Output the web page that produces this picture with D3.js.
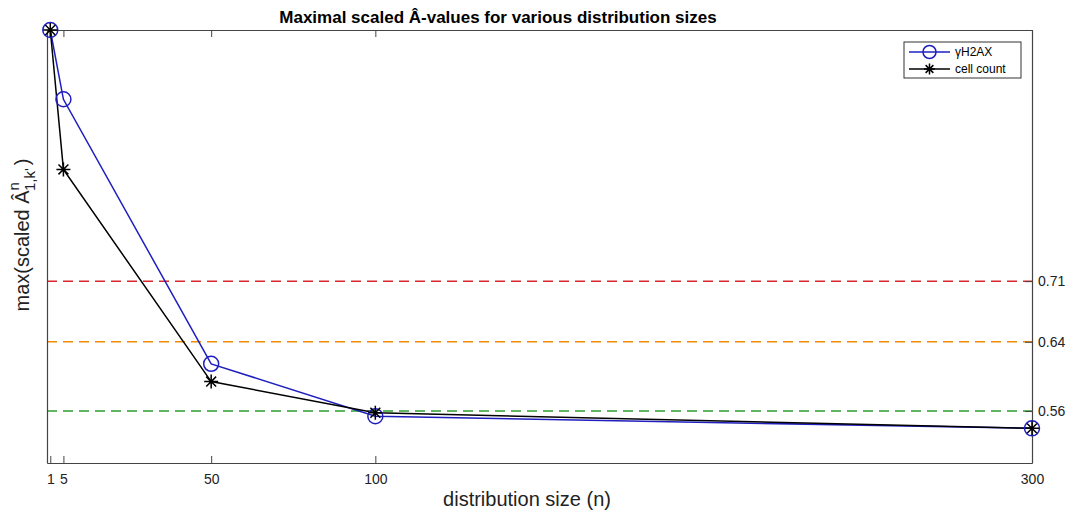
<!DOCTYPE html>
<html><head><meta charset="utf-8">
<script src="https://cdn.jsdelivr.net/npm/d3@7"></script>
<style>body{margin:0;background:#fff}svg{display:block}text{font-family:"Liberation Sans",Arial,sans-serif}</style>
</head><body><svg id="c" width="1075" height="515"></svg>
<script>
const sizes = [1, 5, 50, 100, 300];
const gammaH2AX = [1.0, 0.920, 0.6145, 0.554, 0.540];
const cellCount = [1.0, 0.839, 0.594, 0.558, 0.540];
const xTicks = [1, 5, 50, 100, 300];
const thresholds = [0.71, 0.64, 0.56];
const thresholdColors = ["#d9272b", "#ef8c00", "#2ca02c"];
const seriesNames = ["\u03b3H2AX", "cell count"];

(function () {
const svg = d3.select("#c");
const L = 47, R = 1032, T = 30, B = 463;
const x = d3.scaleLinear().domain([0, 300]).range([L, R]);
const y = d3.scaleLinear().domain([0.5, 1]).range([B, T]);
const axCol = "#444";

// threshold lines
svg.selectAll("line.th").data(thresholds).enter().append("line")
  .attr("x1", L).attr("x2", R).attr("y1", d => y(d)).attr("y2", d => y(d))
  .attr("stroke", (d, i) => thresholdColors[i]).attr("stroke-width", 1.5)
  .attr("stroke-dasharray", "10,6");

// axes
const axBottom = svg.append("g").attr("transform", `translate(0,${B})`)
  .call(d3.axisBottom(x).tickValues(xTicks).tickSizeInner(-7).tickSizeOuter(0).tickPadding(11));
const axTop = svg.append("g").attr("transform", `translate(0,${T})`)
  .call(d3.axisTop(x).tickValues(xTicks).tickSizeInner(-7).tickSizeOuter(0).tickFormat(""));
const axRight = svg.append("g").attr("transform", `translate(${R},0)`)
  .call(d3.axisRight(y).tickValues(thresholds).tickSizeInner(-7).tickSizeOuter(0).tickPadding(6).tickFormat(d3.format(".2f")));
const axLeft = svg.append("g").attr("transform", `translate(${L},0)`)
  .call(d3.axisLeft(y).tickValues([]).tickSizeOuter(0));
[axBottom, axTop, axRight, axLeft].forEach(g => {
  g.select(".domain").attr("stroke", axCol).attr("stroke-width", 1.2);
  g.selectAll(".tick line").attr("stroke", axCol).attr("stroke-width", 1);
  g.selectAll("text").attr("font-size", 14).attr("fill", "#222").attr("font-family", '"Liberation Sans",Arial,sans-serif');
});

// lines
const line = d3.line().x(d => x(d[0])).y(d => y(d[1]));
const gData = sizes.map((s, i) => [s, gammaH2AX[i]]);
const cData = sizes.map((s, i) => [s, cellCount[i]]);
svg.append("path").datum(gData).attr("d", line).attr("fill", "none").attr("stroke", "#1f1fbf").attr("stroke-width", 1.5);
svg.append("path").datum(cData).attr("d", line).attr("fill", "none").attr("stroke", "#000").attr("stroke-width", 1.5);

function star(g, cx, cy, r) {
  const p = [];
  for (let k = 0; k < 4; k++) {
    const a = k * Math.PI / 4 + Math.PI / 2;
    p.push(`M${cx + r * Math.cos(a)},${cy + r * Math.sin(a)}L${cx - r * Math.cos(a)},${cy - r * Math.sin(a)}`);
  }
  g.append("path").attr("d", p.join("")).attr("stroke", "#000").attr("stroke-width", 1.5).attr("fill", "none");
}
svg.selectAll("circle.g").data(gData).enter().append("circle")
  .attr("cx", d => x(d[0])).attr("cy", d => y(d[1])).attr("r", 7.5)
  .attr("fill", "none").attr("stroke", "#1f1fbf").attr("stroke-width", 1.5);
const sg = svg.append("g");
cData.forEach(d => star(sg, x(d[0]), y(d[1]), 7));

// legend
const lg = svg.append("g");
lg.append("rect").attr("x", 904).attr("y", 42).attr("width", 117).attr("height", 36)
  .attr("fill", "#fff").attr("stroke", "#333").attr("stroke-width", 1);
lg.append("line").attr("x1", 909).attr("x2", 950).attr("y1", 52).attr("y2", 52).attr("stroke", "#1f1fbf").attr("stroke-width", 1.5);
lg.append("circle").attr("cx", 929.5).attr("cy", 52).attr("r", 6.5).attr("fill", "none").attr("stroke", "#1f1fbf").attr("stroke-width", 1.5);
lg.append("line").attr("x1", 909).attr("x2", 950).attr("y1", 69).attr("y2", 69).attr("stroke", "#000").attr("stroke-width", 1.5);
star(lg, 929.5, 69, 5.5);
lg.append("text").attr("x", 955).attr("y", 56).attr("font-size", 12).text(seriesNames[0]);
lg.append("text").attr("x", 955).attr("y", 73).attr("font-size", 12).text(seriesNames[1]);

// title
svg.append("text").attr("x", 498).attr("y", 23).attr("text-anchor", "middle")
  .attr("font-size", 17).attr("font-weight", "bold").text("Maximal scaled \u00c2-values for various distribution sizes");

// x label
svg.append("text").attr("x", 527).attr("y", 506).attr("text-anchor", "middle")
  .attr("font-size", 20).attr("fill", "#222").text("distribution size (n)");

// y label
const yl = svg.append("text").attr("transform", "translate(29,235) rotate(-90)")
  .attr("text-anchor", "middle").attr("font-size", 20).attr("fill", "#222");
yl.append("tspan").text("max(scaled \u00c2");
yl.append("tspan").attr("dy", -10).attr("font-size", 15).text("n");
yl.append("tspan").attr("dx", -9).attr("dy", 16).attr("font-size", 15).text("1,k'");
yl.append("tspan").attr("dx", 3).attr("dy", -6).text(")");
})();
</script></body></html>
